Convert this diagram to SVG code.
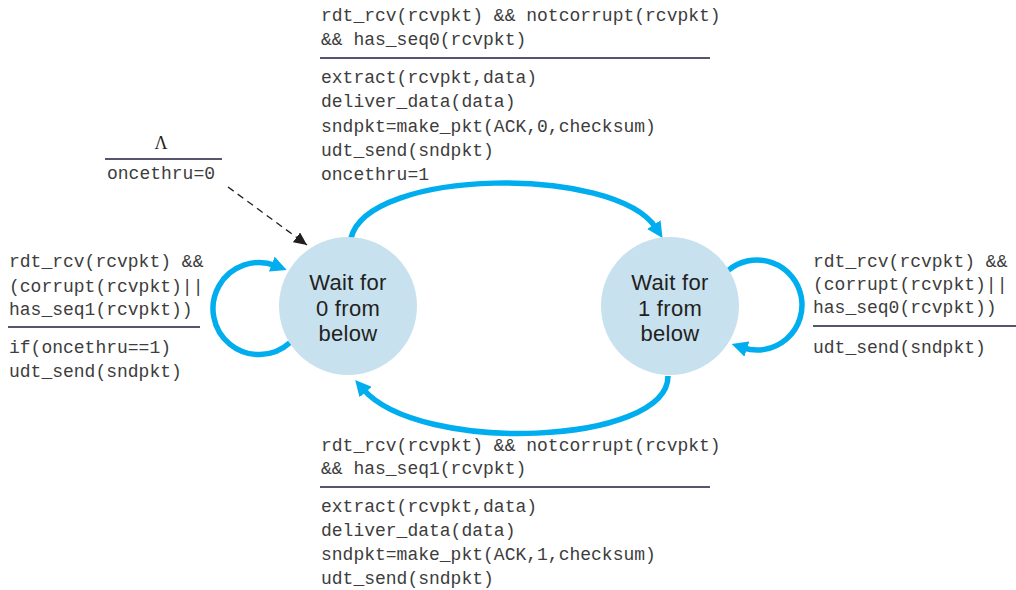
<svg xmlns="http://www.w3.org/2000/svg" width="1016" height="590" viewBox="0 0 1016 590">
<style>
.mono{font-family:"Liberation Mono","DejaVu Sans Mono",monospace;font-size:18px;fill:#3d3d3d}
.state{fill:#c7e1ef}
.slabel{font-family:"Liberation Sans",Arial,sans-serif;font-size:22px;letter-spacing:0.3px;fill:#231f20;text-anchor:middle}
.sep{stroke:#1c1c3a;stroke-width:1.5}
.blue{fill:none;stroke:#00aeef;stroke-width:5.5}
</style>
<defs>
<marker id="ab" markerUnits="userSpaceOnUse" markerWidth="18" markerHeight="16" refX="4" refY="8" orient="auto">
<path d="M0,0 L16,8 L0,16 z" fill="#00aeef"/>
</marker>
<marker id="ak" markerUnits="userSpaceOnUse" markerWidth="14" markerHeight="12" refX="13" refY="6" orient="auto">
<path d="M0,0 L13,6 L0,12 z" fill="#231f20"/>
</marker>
</defs>
<g id="connectors">
<path class="blue" d="M351 238 C368 168 615 165 656 228" marker-end="url(#ab)"/>
<path class="blue" d="M668 376 C668 445 420 455 363 389" marker-end="url(#ab)"/>
<path class="blue" d="M289.8 342.7 A46 46 0 1 1 275.5 265.6" marker-end="url(#ab)"/>
<path class="blue" d="M728.1 270.5 A45 45 0 1 1 743.1 347.8" marker-end="url(#ab)"/>
<path d="M228 187 L307 245" fill="none" stroke="#231f20" stroke-width="1.3" stroke-dasharray="7 5" marker-end="url(#ak)"/>
</g>
<g id="state0">
<circle class="state" cx="348" cy="306" r="69"/>
<text class="slabel" x="348" y="290">Wait for</text>
<text class="slabel" x="348" y="315.5">0 from</text>
<text class="slabel" x="348" y="341">below</text>
</g>
<g id="state1">
<circle class="state" cx="670" cy="306" r="69"/>
<text class="slabel" x="670" y="290">Wait for</text>
<text class="slabel" x="670" y="315.5">1 from</text>
<text class="slabel" x="670" y="341">below</text>
</g>
<g id="label-top">
<text class="mono" x="321" y="21">rdt_rcv(rcvpkt) &amp;&amp; notcorrupt(rcvpkt)</text>
<text class="mono" x="321" y="45">&amp;&amp; has_seq0(rcvpkt)</text>
<line class="sep" x1="320" y1="58" x2="710" y2="58"/>
<text class="mono" x="321" y="83">extract(rcvpkt,data)</text>
<text class="mono" x="321" y="107">deliver_data(data)</text>
<text class="mono" x="321" y="132">sndpkt=make_pkt(ACK,0,checksum)</text>
<text class="mono" x="321" y="156">udt_send(sndpkt)</text>
<text class="mono" x="321" y="180">oncethru=1</text>
</g>
<g id="label-bottom">
<text class="mono" x="321" y="451">rdt_rcv(rcvpkt) &amp;&amp; notcorrupt(rcvpkt)</text>
<text class="mono" x="321" y="474">&amp;&amp; has_seq1(rcvpkt)</text>
<line class="sep" x1="320" y1="487" x2="710" y2="487"/>
<text class="mono" x="321" y="512">extract(rcvpkt,data)</text>
<text class="mono" x="321" y="536">deliver_data(data)</text>
<text class="mono" x="321" y="560">sndpkt=make_pkt(ACK,1,checksum)</text>
<text class="mono" x="321" y="584">udt_send(sndpkt)</text>
</g>
<g id="label-init">
<text x="161" y="149" font-family="'Liberation Serif',serif" font-size="18" fill="#231f20" text-anchor="middle">Λ</text>
<line class="sep" x1="105" y1="159" x2="222" y2="159"/>
<text class="mono" x="107" y="179">oncethru=0</text>
</g>
<g id="label-left">
<text class="mono" x="9" y="267">rdt_rcv(rcvpkt) &amp;&amp;</text>
<text class="mono" x="9" y="292">(corrupt(rcvpkt)||</text>
<text class="mono" x="9" y="315">has_seq1(rcvpkt))</text>
<line class="sep" x1="8" y1="327" x2="200" y2="327"/>
<text class="mono" x="9" y="353">if(oncethru==1)</text>
<text class="mono" x="9" y="377">udt_send(sndpkt)</text>
</g>
<g id="label-right">
<text class="mono" x="813" y="267">rdt_rcv(rcvpkt) &amp;&amp;</text>
<text class="mono" x="813" y="290">(corrupt(rcvpkt)||</text>
<text class="mono" x="813" y="313">has_seq0(rcvpkt))</text>
<line class="sep" x1="813" y1="326" x2="1016" y2="326"/>
<text class="mono" x="813" y="353">udt_send(sndpkt)</text>
</g>
</svg>
